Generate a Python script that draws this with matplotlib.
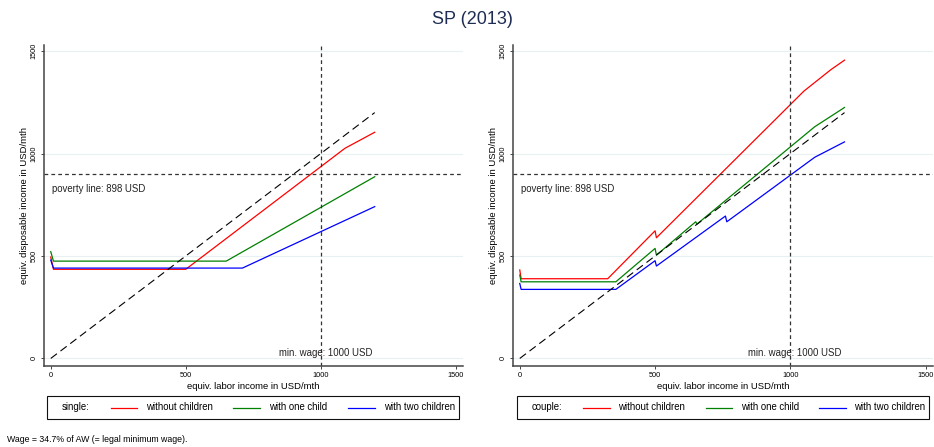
import matplotlib
matplotlib.use('Agg')
import matplotlib.pyplot as plt
from matplotlib.lines import Line2D
from matplotlib.patches import Rectangle

plt.rcParams['font.family'] = ['Liberation Sans', 'DejaVu Sans']

# single household (USD/mth)
single_red_x = [0, 10, 500, 1090, 1200]
single_red_y = [495, 435, 435, 1026, 1104]
single_green_x = [0, 10, 650, 1200]
single_green_y = [521, 475, 475, 887]
single_blue_x = [0, 10, 710, 1200]
single_blue_y = [480, 441, 441, 741]

# couple household
couple_red_x = [0, 5, 325, 500, 505, 1050, 1150, 1200]
couple_red_y = [432, 389, 389, 623, 589, 1305, 1410, 1456]
couple_green_x = [0, 5, 355, 500, 505, 650, 655, 1090, 1200]
couple_green_y = [407, 374, 374, 537, 504, 667, 656, 1131, 1225]
couple_blue_x = [0, 5, 355, 500, 505, 760, 765, 1090, 1200]
couple_blue_y = [366, 337, 337, 477, 451, 695, 667, 982, 1057]

diag_x = [0, 1200]
diag_y = [0, 1200]
POVERTY = 898
MIN_WAGE = 1000
ticks = [0, 500, 1000, 1500]
series_labels = ['without children', 'with one child', 'with two children']
colors = ['#ff0000', '#008000', '#0000ff']

W, H = 934, 447
fig = plt.figure(figsize=(W/100, H/100), dpi=100)

def px(x0, y0, x1, y1):
    return [x0/W, 1-y1/H, (x1-x0)/W, (y1-y0)/H]

def panel(rect, series):
    ax = fig.add_axes(rect)
    for (x, y), c in zip(series, colors):
        ax.plot(x, y, color=c, lw=0.9)
    ax.plot(diag_x, diag_y, color='black', lw=0.8, dashes=(7, 4))
    ax.axhline(POVERTY, color='#333333', lw=0.9, dashes=(3, 2.5))
    ax.axvline(MIN_WAGE, color='#333333', lw=0.9, dashes=(3, 2.5))
    ax.text(5, 828, 'poverty line: 898 USD', fontsize=6.9, va='center', ha='left', color='#222222')
    ax.text(845, 25, 'min. wage: 1000 USD', fontsize=6.9, va='center', ha='left', color='#222222')
    ax.set_xlim(-25, 1527)
    ax.set_ylim(-37, 1530)
    ax.set_xticks(ticks)
    ax.set_yticks(ticks)
    ax.tick_params(labelsize=5.3, length=2.5, width=0.7, color='#444444', pad=2)
    for lab in ax.get_yticklabels():
        lab.set_rotation(90)
        lab.set_va('center')
    ax.grid(axis='y', color='#e8f0f2', lw=0.8)
    ax.set_axisbelow(True)
    for s in ['top', 'right']:
        ax.spines[s].set_visible(False)
    for s in ['left', 'bottom']:
        ax.spines[s].set_color('#444444')
        ax.spines[s].set_linewidth(1.1)
    ax.set_xlabel('equiv. labor income in USD/mth', fontsize=6.8, labelpad=2)
    ax.set_ylabel('equiv. disposable income in USD/mth', fontsize=6.8, labelpad=1)
    return ax

panel(px(44, 45, 463, 366), [(single_red_x, single_red_y), (single_green_x, single_green_y),
                             (single_blue_x, single_blue_y)])
panel(px(513, 45, 933, 366), [(couple_red_x, couple_red_y), (couple_green_x, couple_green_y),
                              (couple_blue_x, couple_blue_y)])

def legend_box(x0, x1, head, head_x, line_xs, text_xs):
    y0, y1 = 396, 419
    fig.add_artist(Rectangle((x0/W + 1.2/W, 1-y1/H - 1.2/H), (x1-x0)/W, (y1-y0)/H,
                             transform=fig.transFigure, facecolor='#666666', edgecolor='none'))
    fig.add_artist(Rectangle((x0/W, 1-y1/H), (x1-x0)/W, (y1-y0)/H, transform=fig.transFigure,
                             facecolor='white', edgecolor='#111111', lw=0.8))
    yc = 1 - 407.5/H
    fig.text(head_x/W, yc, head, fontsize=6.9, va='center', ha='left')
    for (a, b), tx, lab, c in zip(line_xs, text_xs, series_labels, colors):
        fig.add_artist(Line2D([a/W, b/W], [yc, yc], color=c, lw=0.9, transform=fig.transFigure))
        fig.text(tx/W, yc, lab, fontsize=6.9, va='center', ha='left')

legend_box(47, 459, 'single:', 62, [(111, 137), (233, 260), (348, 375)], [146, 269, 384])
legend_box(517, 929, 'couple:', 532, [(583, 610), (706, 732), (819, 846)], [618, 741, 854])

fig.text(472/W, 1-19/H, 'SP (2013)', fontsize=13, ha='center', va='center', color='#1f2d54')
fig.text(7/W, 1-440/H, 'Wage = 34.7% of AW (= legal minimum wage).', fontsize=6.3, ha='left', va='center')

fig.savefig('out.png', dpi=100)
